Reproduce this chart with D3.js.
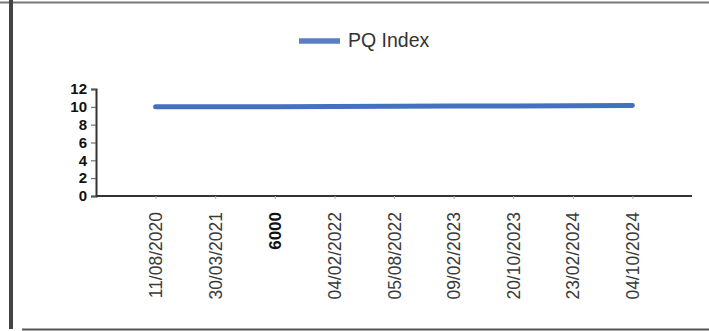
<!DOCTYPE html>
<html>
<head>
<meta charset="utf-8">
<script src="https://cdn.jsdelivr.net/npm/d3@7"></script>
<style>
  html, body { margin: 0; padding: 0; background: #fff; }
  svg { display: block; }
</style>
</head>
<body>
<svg id="chart" width="709" height="331"></svg>
<script>
const categories = ["11/08/2020", "30/03/2021", "6000", "04/02/2022", "05/08/2022", "09/02/2023", "20/10/2023", "23/02/2024", "04/10/2024"];
const seriesName = "PQ Index";
const pqValues = [10, 10, 10.02, 10.04, 10.06, 10.08, 10.1, 10.12, 10.15];
const yTicks = [0, 2, 4, 6, 8, 10, 12];

const svg = d3.select("#chart");
const W = 709, H = 331;

// frame (scanned border)
svg.append("rect").attr("x", 0).attr("y", 0).attr("width", W).attr("height", H).attr("fill", "#fff");
svg.append("line").attr("x1", 0).attr("x2", W).attr("y1", 2.5).attr("y2", 2.5)
  .attr("stroke", "#777").attr("stroke-width", 2);
svg.append("line").attr("x1", 11).attr("x2", 11).attr("y1", 0).attr("y2", 329)
  .attr("stroke", "#444").attr("stroke-width", 4);
svg.append("line").attr("x1", 22).attr("x2", W).attr("y1", 329.5).attr("y2", 329.5)
  .attr("stroke", "#555").attr("stroke-width", 2);

const x = d3.scalePoint().domain(categories).range([96, 692]).padding(1);
const y = d3.scaleLinear().domain([0, 12]).range([196, 89]);

// Y axis
const yAxis = d3.axisLeft(y).tickValues(yTicks).tickSize(5).tickPadding(4);
const gy = svg.append("g").attr("transform", "translate(96,0)").call(yAxis);
gy.select(".domain").attr("stroke", "#333").attr("stroke-width", 2);
gy.selectAll(".tick line").attr("stroke", "#555");
gy.selectAll(".tick text").attr("font-family", "Liberation Sans, Arial, sans-serif")
  .attr("font-size", 15).attr("font-weight", "bold").attr("fill", "#111");

// X axis
const xAxis = d3.axisBottom(x).tickSize(3).tickSizeOuter(0).tickPadding(0);
const gx = svg.append("g").attr("transform", "translate(0,196)").call(xAxis);
gx.select(".domain").attr("stroke", "#333").attr("stroke-width", 2)
  .attr("d", "M96,0H692");
gx.selectAll(".tick line").attr("stroke", "#aaa");
gx.selectAll(".tick text")
  .attr("font-family", "Liberation Sans, Arial, sans-serif")
  .attr("font-size", d => d === "6000" ? 17 : 17.5)
  .attr("font-weight", d => d === "6000" ? "bold" : "normal")
  .attr("fill", d => d === "6000" ? "#111" : "#3a3a3a")
  .attr("text-anchor", "end")
  .attr("dy", null)
  .attr("transform", "translate(0,16) rotate(-90)")
  .attr("x", 0).attr("y", 0)
  .attr("dominant-baseline", "central");

// Line
const line = d3.line().x((d, i) => x(categories[i])).y(d => y(d));
svg.append("path").datum(pqValues).attr("d", line)
  .attr("fill", "none").attr("stroke", "#4470c0").attr("stroke-width", 5)
  .attr("stroke-linecap", "round");

// Legend
svg.append("line").attr("x1", 299).attr("x2", 340).attr("y1", 41).attr("y2", 41)
  .attr("stroke", "#5a7ec4").attr("stroke-width", 5.5);
svg.append("text").attr("x", 348).attr("y", 47).text(seriesName)
  .attr("font-family", "Liberation Sans, Arial, sans-serif").attr("font-size", 19.5)
  .attr("fill", "#333");
</script>
</body>
</html>
